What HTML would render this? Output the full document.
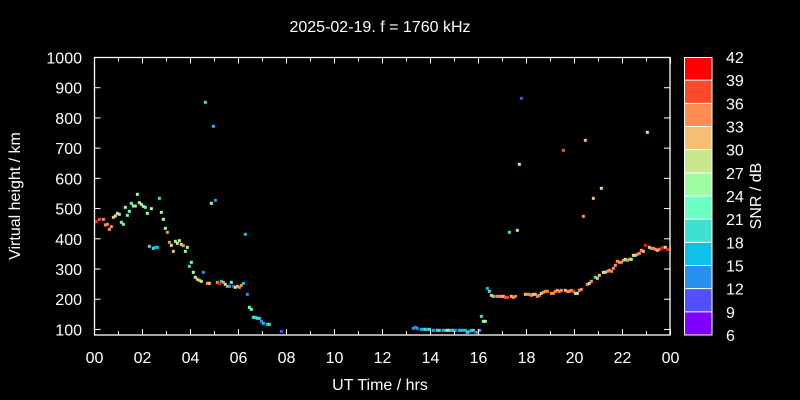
<!DOCTYPE html>
<html><head><style>
html,body{margin:0;padding:0;background:#000;}
svg{display:block;font-family:"Liberation Sans",sans-serif;}
</style></head><body>
<svg id="s" width="800" height="400" xmlns="http://www.w3.org/2000/svg">
<rect width="800" height="400" fill="#000"/>
<text x="380" y="32" fill="#fff" font-size="16" text-anchor="middle">2025-02-19. f = 1760 kHz</text>
<g id="plot"></g>
<rect x="94.5" y="57.5" width="575.5" height="277.5" fill="none" stroke="#fff" stroke-width="1.3"/>
<g id="ticks" stroke="#fff" stroke-width="1"></g>
<g id="lbl" fill="#fff" font-size="16"></g>
<text x="380" y="390" fill="#fff" font-size="16" text-anchor="middle">UT Time / hrs</text>
<text transform="translate(20,196) rotate(-90)" fill="#fff" font-size="16" text-anchor="middle">Virtual height / km</text>
<text transform="translate(761,196) rotate(-90)" fill="#fff" font-size="16" text-anchor="middle">SNR / dB</text>
<g id="cb"></g>
</svg>
<script>
var NS="http://www.w3.org/2000/svg";
function el(p,t,a,txt){var e=document.createElementNS(NS,t);for(var k in a)e.setAttribute(k,a[k]);if(txt!=null)e.textContent=txt;document.getElementById(p).appendChild(e);return e;}
var C={r:"#ff1a10",ro:"#ff5030",o:"#ff8c50",p:"#f2c070",k:"#c8e68c",g:"#a0fca0",t:"#64ffc0",q:"#40e0d0",c:"#10c0e8",b:"#2890f0",pb:"#5050ff",v:"#8000ff"};
var A=[[170,545,"r"],[178,538,"ro"],[190,538,"o"],[196,555,"o"],[202,553,"o"],[208,568,"o"],[214,560,"o"],[220,532,"p"],[226,528,"k"],[232,520,"k"],[238,523,"k"],[244,547,"t"],[250,553,"t"],[256,502,"g"],[262,526,"t"],[268,514,"t"],[274,490,"t"],[280,498,"g"],[286,498,"k"],[292,463,"g"],[298,488,"g"],[304,493,"g"],[310,499,"g"],[316,502,"t"],[322,520,"g"],[334,506,"g"],[328,619,"q"],[340,625,"q"],[346,622,"c"],[352,622,"c"],[358,475,"q"],[364,517,"g"],[370,538,"g"],[376,565,"g"],[382,577,"o"],[388,607,"o"],[394,616,"k"],[400,634,"p"],[406,604,"k"],[412,610,"k"],[418,602,"k"],[424,613,"g"],[430,617,"o"],[436,634,"g"],[442,622,"g"],[448,679,"q"],[454,667,"t"],[460,697,"g"],[466,712,"g"],[472,718,"p"],[478,721,"p"],[484,724,"k"],[490,697,"b"],[496,187,"q"],[502,730,"o"],[508,730,"p"],[514,490,"g"],[520,259,"c"],[526,481,"b"],[532,727,"o"],[538,730,"r"],[544,724,"c"],[550,727,"o"],[556,733,"k"],[562,739,"o"],[568,739,"c"],[574,727,"t"],[580,739,"pb"],[586,742,"k"],[592,739,"p"],[598,742,"o"],[604,736,"o"],[610,730,"c"],[616,583,"c"],[622,763,"b"],[628,802,"t"],[634,808,"t"],[640,832,"q"],[646,832,"q"],[652,835,"q"],[658,835,"q"],[664,844,"b"],[670,850,"c"],[682,853,"c"],[688,853,"q"],[724,874,"pb"]];
var B=[[40,865,"b"],[46,862,"b"],[52,865,"b"],[64,868,"b"],[70,868,"c"],[76,868,"q"],[82,868,"c"],[88,868,"q"],[100,871,"c"],[112,871,"q"],[118,871,"q"],[130,871,"c"],[136,871,"c"],[142,871,"k"],[148,871,"p"],[154,871,"c"],[160,871,"q"],[166,871,"b"],[178,871,"c"],[184,871,"c"],[190,871,"c"],[196,871,"c"],[202,877,"q"],[208,874,"c"],[214,871,"c"],[220,871,"q"],[226,877,"pb"],[232,877,"b"],[238,871,"c"],[244,829,"q"],[250,844,"g"],[256,844,"g"],[262,745,"c"],[268,754,"q"],[274,766,"p"],[280,769,"k"],[286,769,"b"],[292,769,"o"],[298,769,"o"],[304,769,"o"],[310,769,"p"],[316,772,"ro"],[322,772,"ro"],[334,769,"p"],[340,772,"o"],[346,769,"o"],[328,577,"q"],[352,571,"k"],[358,373,"g"],[364,175,"pb"],[376,763,"p"],[382,763,"o"],[388,763,"o"],[394,766,"o"],[400,763,"k"],[406,763,"p"],[412,769,"o"],[418,766,"o"],[424,760,"k"],[430,757,"o"],[436,754,"o"],[442,754,"o"],[454,760,"o"],[460,760,"o"],[466,754,"o"],[472,751,"o"],[478,754,"o"],[484,751,"o"],[496,751,"p"],[502,754,"o"],[508,754,"o"],[514,751,"o"],[520,754,"ro"],[526,760,"k"],[532,760,"k"],[538,751,"o"],[544,748,"o"],[490,331,"ro"],[550,529,"o"],[556,301,"p"],[580,475,"p"],[604,445,"k"],[562,733,"o"],[568,730,"k"],[574,724,"o"],[586,712,"q"],[592,715,"p"],[598,706,"p"],[610,697,"k"],[616,697,"k"],[622,694,"o"],[628,691,"o"],[634,694,"o"],[640,685,"o"],[646,676,"o"],[652,664,"o"],[658,667,"o"],[664,667,"o"],[670,661,"o"],[676,658,"g"],[682,661,"o"],[688,658,"o"],[694,658,"g"],[700,646,"k"],[706,646,"k"],[712,643,"o"],[718,640,"o"],[724,631,"o"],[730,634,"p"],[736,616,"r"],[742,277,"g"],[748,622,"k"],[754,625,"o"],[760,625,"o"],[766,628,"o"],[772,631,"p"],[778,628,"o"],[784,625,"r"],[790,622,"r"],[796,622,"g"],[802,628,"r"],[808,628,"r"]];
A.forEach(function(d){el("plot","rect",{x:40+d[0]/3-1.5,y:40+d[1]/3-1.5,width:3,height:3,fill:C[d[2]]});});
B.forEach(function(d){el("plot","rect",{x:400+d[0]/3-1.5,y:40+d[1]/3-1.5,width:3,height:3,fill:C[d[2]]});});
for(var h=0;h<=24;h++){var x=94.5+h*24;var L=(h%2==0)?6:4;
 el("ticks","line",{x1:x,y1:335,x2:x,y2:335-L});el("ticks","line",{x1:x,y1:57.5,x2:x,y2:57.5+L});
 if(h%2==0){var s=("0"+(h%24)).slice(-2);el("lbl","text",{x:x,y:363,"text-anchor":"middle"},s);}}
for(var v=100;v<=1000;v+=100){var y=57.5+(1000-v)*278/920;
 el("ticks","line",{x1:94.5,y1:y,x2:100.5,y2:y});el("ticks","line",{x1:670,y1:y,x2:664,y2:y});
 el("lbl","text",{x:82,y:y+6,"text-anchor":"end"},""+v);}
var cols=["#ff0000","#ff4a2a","#ff8c50","#f2c070","#c8e68c","#a0fca0","#6cffc4","#40e0d0","#10c0e8","#2890f0","#5050ff","#8000ff"];
var bh=278/12;
cols.forEach(function(c,i){el("cb","rect",{x:684,y:57+i*bh,width:28,height:bh,fill:c});
 if(i>0)el("cb","line",{x1:684,y1:57+i*bh,x2:712,y2:57+i*bh,stroke:"#fff","stroke-width":1});});
el("cb","rect",{x:684.5,y:57.5,width:27.5,height:277.5,fill:"none",stroke:"#fff","stroke-width":1});
for(var i=0;i<=12;i++){el("cb","text",{x:726,y:57+i*bh+6,fill:"#fff","font-size":"16"},""+(42-3*i));}
</script>
</body></html>
